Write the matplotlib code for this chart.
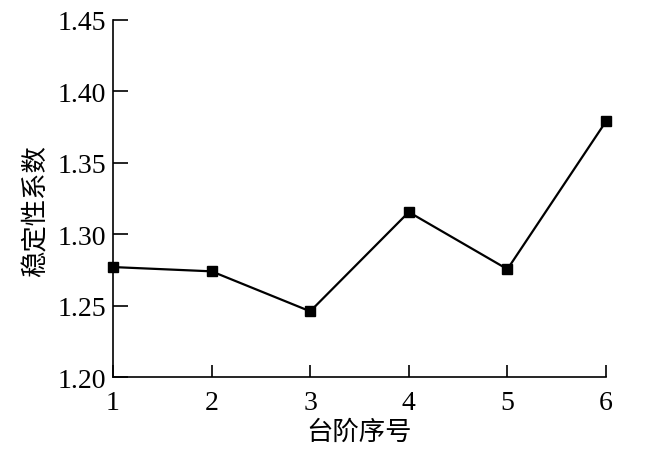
import matplotlib
matplotlib.use("Agg")
import matplotlib.pyplot as plt

steps = [1, 2, 3, 4, 5, 6]
factor = [1.277, 1.274, 1.246, 1.3155, 1.2755, 1.379]
yticks = [1.20, 1.25, 1.30, 1.35, 1.40, 1.45]

plt.rcParams["font.family"] = ["Liberation Serif", "Noto Sans CJK SC"]

fig = plt.figure(figsize=(6.54, 4.56), dpi=100)
ax = fig.add_axes([0.1728, 0.171, 0.7538, 0.783])

ax.plot(steps, factor, color="black", linewidth=1.6, marker="s", markersize=7.8,
        markerfacecolor="black", markeredgecolor="black", clip_on=False, zorder=3)

ax.set_xlim(1, 6)
ax.set_ylim(1.20, 1.45)
ax.set_xticks(steps)
ax.set_yticks(yticks)
ax.set_yticklabels([f"{v:.2f}" for v in yticks])

for s in ["top", "right"]:
    ax.spines[s].set_visible(False)
for s in ["left", "bottom"]:
    ax.spines[s].set_linewidth(1.2)

ax.tick_params(axis="y", direction="in", length=11, width=1.2, labelsize=20, pad=5)
ax.tick_params(axis="x", direction="in", length=9, width=1.2, labelsize=20, pad=9)

cjk = ["Noto Sans CJK SC", "DejaVu Sans"]
ax.set_xlabel("台阶序号", fontsize=19, family=cjk, weight="light")
ax.set_ylabel("稳定性系数", fontsize=19, family=cjk, weight="light")
ax.xaxis.set_label_coords(0.5, -0.115)
ax.yaxis.set_label_coords(-0.128, 0.468)

fig.savefig("out.png", dpi=100)
